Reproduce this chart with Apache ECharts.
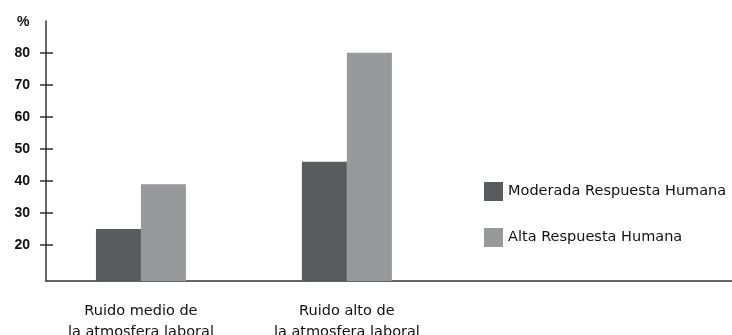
<!DOCTYPE html>
<html>
<head>
<meta charset="utf-8">
<script src="https://cdn.jsdelivr.net/npm/echarts@6/dist/echarts.min.js"></script>
<style>
  html, body { margin: 0; padding: 0; background: #fff; }
  #chart { width: 732px; height: 335px; }
</style>
</head>
<body>
<div id="chart"></div>
<script>
// datos
var categorias = ['Ruido medio de\nla atmosfera laboral', 'Ruido alto de\nla atmosfera laboral'];
var posiciones = [1, 2];
var moderada = [25, 46];
var alta = [39, 80];
var ticksY = [20, 30, 40, 50, 60, 70, 80];
var series_nombres = ['Moderada Respuesta Humana', 'Alta Respuesta Humana'];

function pares(vals) {
    return vals.map(function (v, i) { return [posiciones[i], v]; });
}

window.onload = function () {
    var chart = echarts.init(document.getElementById('chart'));
    var ejeColor = '#333';
    var option = {
        animation: false,
        title: {
            text: '%',
            left: 17,
            top: 15,
            padding: 0,
            textStyle: { fontFamily: 'Liberation Sans', fontWeight: 'bold', fontSize: 14, color: '#111' }
        },
        legend: {
            orient: 'vertical',
            left: 484,
            top: 182,
            padding: 0,
            itemWidth: 19,
            itemHeight: 19,
            itemGap: 27,
            icon: 'rect',
            data: series_nombres,
            textStyle: { fontFamily: 'DejaVu Sans', fontSize: 14.5, color: '#111' }
        },
        grid: { left: 46, right: 0, top: 21, bottom: 54, outerBoundsMode: 'none', containLabel: false },
        xAxis: {
            type: 'value',
            min: 0.539,
            max: 3.87,
            splitLine: { show: false },
            axisLine: { show: true, lineStyle: { color: ejeColor, width: 1.5 } },
            axisTick: { show: false },
            axisLabel: {
                customValues: posiciones,
                formatter: function (v) { return categorias[posiciones.indexOf(v)] || ''; },
                fontFamily: 'DejaVu Sans',
                fontSize: 14.5,
                lineHeight: 21,
                color: '#111',
                margin: 20
            }
        },
        yAxis: [{
            type: 'value',
            min: 8.8,
            max: 89.9,
            splitLine: { show: false },
            axisLine: { show: true, lineStyle: { color: ejeColor, width: 1.5 } },
            axisTick: { show: true, customValues: ticksY, length: 6, lineStyle: { color: ejeColor, width: 1.5 } },
            axisLabel: {
                customValues: ticksY,
                fontFamily: 'Liberation Sans',
                fontWeight: 'bold',
                fontSize: 14,
                color: '#111',
                margin: 16
            }
        }, {
            type: 'value',
            position: 'left',
            min: 8.8,
            max: 89.9,
            splitLine: { show: false },
            axisLine: { show: false },
            axisTick: { show: true, inside: true, customValues: ticksY, length: 7, lineStyle: { color: ejeColor, width: 1.5 } },
            axisLabel: { show: false }
        }],
        series: [{
            name: series_nombres[0],
            type: 'bar',
            barWidth: 45,
            barGap: '0%',
            itemStyle: { color: '#5a5b5d' },
            data: pares(moderada)
        }, {
            name: series_nombres[1],
            type: 'bar',
            barWidth: 45,
            barGap: '0%',
            itemStyle: { color: '#98999b' },
            data: pares(alta)
        }]
    };
    chart.setOption(option);
};
</script>
</body>
</html>
